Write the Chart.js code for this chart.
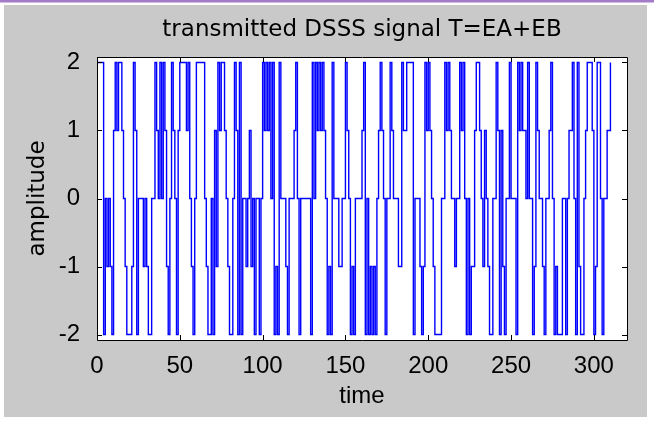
<!DOCTYPE html>
<html>
<head>
<meta charset="utf-8">
<script src="https://cdn.jsdelivr.net/npm/chart.js@4.4.1/dist/chart.umd.min.js"></script>
<style>
  html, body { margin: 0; padding: 0; background: #ffffff; }
  canvas { display: block; }
</style>
</head>
<body>
<canvas id="dsssChart" width="654" height="421"></canvas>
<script>
// transmitted signal T = EA + EB, one value per time step
var amplitude = [
   2,  2,  2,  2, -2,  0, -1,  0, -1, -2,
   1,  2,  1,  2,  2,  1,  0, -1, -2, -2,
  -2, -1,  2,  1, -2,  0,  0,  0, -1,  0,
  -1, -2, -2,  0,  0,  2,  1,  0,  2,  0,
   2,  1, -1, -2,  0,  2,  1,  0, -2,  1,
   2,  2,  2,  2,  1,  2,  0, -1, -2,  0,
   2,  2,  2,  2,  2,  0, -1, -2, -2,  0,
  -2,  1, -1,  2,  1,  2,  2,  1,  0, -1,
  -2, -2,  0,  2,  1, -2,  2, -2,  0,  0,
  -1,  0,  1, -1,  0, -2,  0,  0, -2,  0,
   2,  1,  2,  1,  2,  0,  2, -2, -1, -2,
   2,  0,  0,  0, -1, -2,  0,  0,  0,  1,
   2,  0, -2,  0,  0,  0,  0,  0,  0, -2,
   2,  0,  2,  1,  2,  1,  2,  1,  0, -2,
  -1, -2,  2,  0,  0,  0, -1, -1,  0,  0,
   2,  1,  0, -2, -1, -2,  0,  0,  0,  0,
   1,  2, -2,  0, -2, -1, -2, -1, -2,  0,
   1,  2,  1,  0, -2,  0,  0,  2,  1,  0,
   0,  0, -1, -1,  2,  1,  1,  2,  2,  2,
   2, -2,  0,  0,  0, -1, -2, -1,  2,  1,
   2,  1,  0, -1, -2, -2, -2, -2,  0,  0,
   2,  1,  2,  1,  0,  0, -1,  0,  0,  2,
   1,  2,  0, -2,  0, -2, -1, -1,  1,  2,
   2,  1,  0, -1,  1,  0, -1, -2, -2,  0,
   0,  2,  1, -2,  1, -1, -2,  0,  0,  2,
   0,  0,  0, -2,  2,  1,  2,  1,  1,  0,
   2,  0,  0, -2, -1,  2,  1,  0,  0, -1,
  -2,  0,  0,  1,  2,  0, -2, -1, -2, -2,
  -2,  0,  0, -2,  0,  1,  1,  2,  0, -2,
   2, -1, -2, -2,  0,  1,  2,  2,  2,  1,
  -2, -1,  2,  2,  0, -2,  0,  0,  1,  1,
   2
];
var timeTicks = [0, 50, 100, 150, 200, 250, 300];
var ampTicks = [-2, -1, 0, 1, 2];

var points = amplitude.map(function (v, i) { return { x: i, y: v }; });

// grey figure background, white axes area
var figureBg = {
  id: 'figureBg',
  beforeDraw: function (chart) {
    var ctx = chart.ctx;
    var a = chart.chartArea;
    ctx.save();
    ctx.fillStyle = '#ffffff';
    ctx.fillRect(0, 0, chart.width, chart.height);
    ctx.fillStyle = '#a27cc8';
    ctx.fillRect(0, 0, chart.width, 2.5);
    ctx.fillStyle = '#c9c9c9';
    ctx.fillRect(4, 5, 643, 412);
    ctx.fillStyle = '#ffffff';
    ctx.fillRect(a.left, a.top, a.right - a.left, a.bottom - a.top);
    ctx.restore();
  }
};

// box around axes with inward tick marks on all four sides
var axesBox = {
  id: 'axesBox',
  afterDraw: function (chart) {
    var ctx = chart.ctx;
    var a = chart.chartArea;
    var xs = chart.scales.x, ys = chart.scales.y;
    var len = 5;
    ctx.save();
    ctx.strokeStyle = '#000000';
    ctx.lineWidth = 1;
    ctx.beginPath();
    ctx.rect(Math.round(a.left) + 0.5, Math.round(a.top) + 0.5,
             Math.round(a.right - a.left), Math.round(a.bottom - a.top));
    timeTicks.forEach(function (t) {
      var px = Math.round(xs.getPixelForValue(t)) + 0.5;
      ctx.moveTo(px, a.bottom); ctx.lineTo(px, a.bottom - len);
      ctx.moveTo(px, a.top); ctx.lineTo(px, a.top + len);
    });
    ampTicks.forEach(function (v) {
      var py = Math.round(ys.getPixelForValue(v)) + 0.5;
      ctx.moveTo(a.left, py); ctx.lineTo(a.left + len, py);
      ctx.moveTo(a.right, py); ctx.lineTo(a.right - len, py);
    });
    ctx.stroke();
    ctx.restore();
  }
};

var ctx = document.getElementById('dsssChart').getContext('2d');
var chart = new Chart(ctx, {
  type: 'line',
  data: {
    datasets: [{
      label: 'T',
      data: points,
      borderColor: '#0000ff',
      borderWidth: 1.4,
      pointRadius: 0,
      fill: false,
      stepped: 'before',
      tension: 0
    }]
  },
  options: {
    responsive: false,
    animation: false,
    devicePixelRatio: 1,
    layout: { autoPadding: false, padding: { left: 0, right: 27, top: 0, bottom: 0 } },
    plugins: {
      legend: { display: false },
      tooltip: { enabled: false },
      title: {
        display: true,
        fullSize: false,
        text: 'transmitted DSSS signal T=EA+EB',
        color: '#000000',
        font: { family: 'DejaVu Sans', size: 23, weight: 'normal' },
        padding: { top: 16, bottom: 13.4 }
      }
    },
    scales: {
      x: {
        type: 'linear',
        min: 0,
        max: 320,
        afterBuildTicks: function (scale) {
          scale.ticks = timeTicks.map(function (t) { return { value: t }; });
        },
        afterFit: function (scale) { scale.height = 81; },
        grid: { display: false },
        border: { display: false },
        ticks: {
          color: '#000000',
          padding: 4,
          maxRotation: 0,
          autoSkip: false,
          font: { family: 'Liberation Sans', size: 24 }
        },
        title: {
          display: true,
          text: 'time',
          color: '#000000',
          font: { family: 'Liberation Sans', size: 24 },
          padding: { top: 0, bottom: 10 }
        }
      },
      y: {
        type: 'linear',
        min: -2.08,
        max: 2.08,
        afterBuildTicks: function (scale) {
          scale.ticks = ampTicks.map(function (v) { return { value: v }; });
        },
        afterFit: function (scale) { scale.width = 97; },
        grid: { display: false },
        border: { display: false },
        ticks: {
          color: '#000000',
          padding: 9,
          font: { family: 'Liberation Sans', size: 24 }
        },
        title: {
          display: true,
          text: 'amplitude',
          color: '#000000',
          font: { family: 'DejaVu Sans', size: 23 },
          padding: { top: 24, bottom: 0 }
        }
      }
    }
  },
  plugins: [figureBg, axesBox]
});
</script>
</body>
</html>
